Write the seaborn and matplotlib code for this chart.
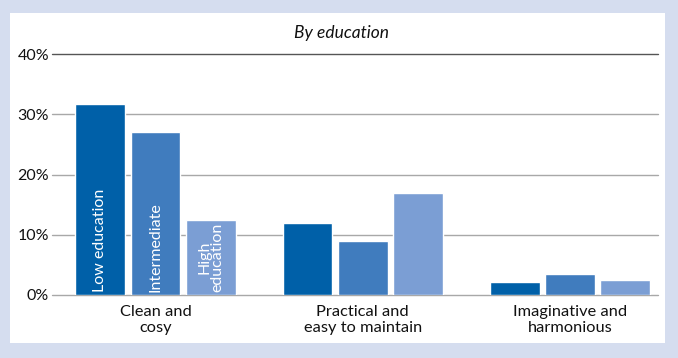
import matplotlib
matplotlib.use("Agg")
import matplotlib.pyplot as plt
import seaborn as sns
import pandas as pd
from matplotlib.patches import Rectangle

categories = ["Clean and\ncosy", "Practical and\neasy to maintain", "Imaginative and\nharmonious"]
levels = ["Low education", "Intermediate", "High\neducation"]
low_values = [31.7, 12.0, 2.2]
intermediate_values = [27.0, 9.0, 3.5]
high_values = [12.4, 17.0, 2.5]
y_ticks = [0, 10, 20, 30, 40]
y_tick_labels = ["0%", "10%", "20%", "30%", "40%"]
title = "By education"
colors = ["#0060A8", "#407CBE", "#7B9ED4"]

rows = []
for lvl, vals in zip(levels, [low_values, intermediate_values, high_values]):
    for c, v in zip(categories, vals):
        rows.append({"category": c, "level": lvl, "value": v})
df = pd.DataFrame(rows)

sns.set_theme(style="white")
plt.rcParams['font.family'] = ['Lato', 'DejaVu Sans']

fig = plt.figure(figsize=(6.78, 3.58), dpi=100)
fig.patch.set_facecolor("#D5DDEF")

bg = fig.add_axes([0, 0, 1, 1], zorder=-5)
bg.set_xlim(0, 678)
bg.set_ylim(358, 0)
bg.axis("off")
bg.add_patch(Rectangle((10, 13), 655, 330, facecolor="white", edgecolor="none"))

ax = fig.add_axes([52/678, 1 - 295/358, 606/678, 241/358], zorder=1)
ax.set_facecolor("none")

for y in y_ticks:
    ax.axhline(y, color="#555555" if y == 40 else "#A8A8A8", lw=1.0,
               zorder=0, clip_on=False)

sns.barplot(data=df, x="category", y="value", hue="level", order=categories,
            hue_order=levels, palette=colors, width=0.8, gap=0.1,
            saturation=1, ax=ax, legend=False, zorder=2)

ax.set_ylim(0, 40)
ax.set_xlim(-0.5, 2.425)
ax.set_yticks(y_ticks)
ax.set_yticklabels(y_tick_labels, fontsize=11.5, color="#111111")
ax.tick_params(axis="y", length=0, pad=2)
ax.tick_params(axis="x", length=0, pad=7, labelsize=11.8, labelcolor="#111111")
ax.set_xlabel("")
ax.set_ylabel("")
for s in ax.spines.values():
    s.set_visible(False)

first_bars = []
for container in ax.containers:
    first_bars.append(container.patches[0])
for bar, lvl in zip(first_bars, levels):
    cx = bar.get_x() + bar.get_width() / 2
    ax.text(cx, 0.5, lvl, rotation=90, ha="center", va="bottom",
            color="white", fontsize=11.5, linespacing=0.9, zorder=3)

fig.text(341/678, 1 - 33/358, title, ha="center", va="center",
         fontsize=12.5, style="italic", color="#111111")

fig.savefig("out.png", dpi=100, facecolor=fig.get_facecolor())
